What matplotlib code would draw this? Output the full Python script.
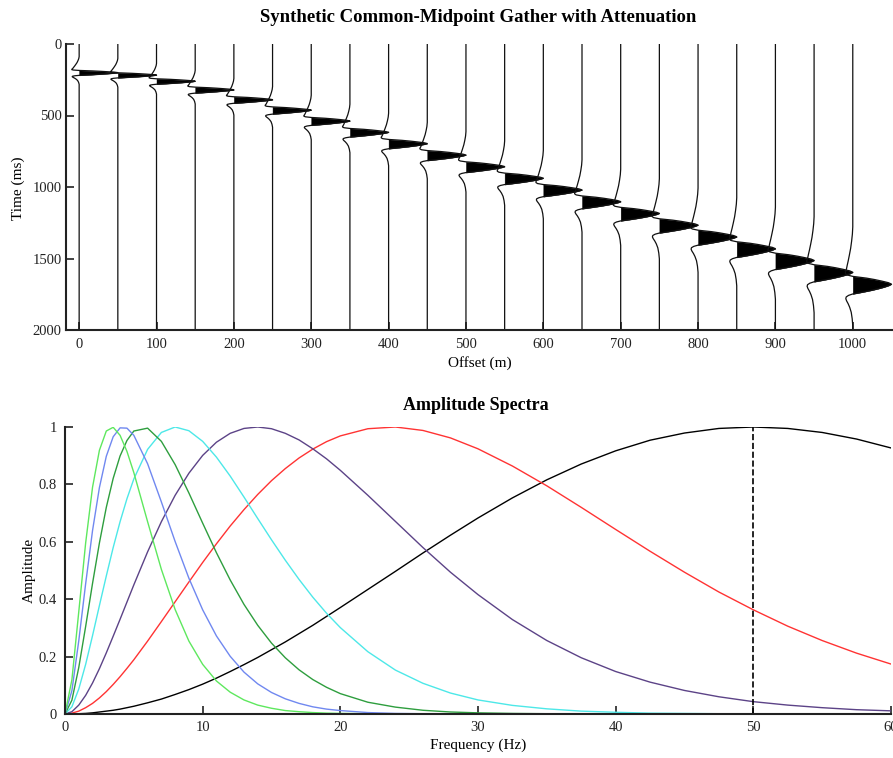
import numpy as np
import matplotlib
matplotlib.use("Agg")
import matplotlib.pyplot as plt

plt.rcParams['font.family'] = ['Liberation Serif', 'DejaVu Serif']

# ---------------- gather data ----------------
offsets = list(range(0, 1001, 50))
arrival_ms = [200, 217, 260, 320, 389, 462, 538, 617, 696, 776, 857, 938,
              1020, 1102, 1184, 1266, 1348, 1431, 1513, 1596, 1679]
width_scale = [0.28, 0.29, 0.31, 0.34, 0.37, 0.41, 0.45, 0.49, 0.53, 0.57, 0.61,
               0.65, 0.69, 0.73, 0.77, 0.81, 0.85, 0.89, 0.93, 0.97, 1.0]
shape_ms = [-400, -350, -300, -250, -200, -160, -130, -110, -95, -84, -74, -64, -54,
            -42, -32, -21, -10, 0, 10, 21, 32, 43, 53, 61, 69, 79, 90, 102, 117,
            137, 162, 197, 242, 292]
shape_amp = [0, -0.01, -0.03, -0.055, -0.09, -0.12, -0.145, -0.16, -0.175, -0.19,
             -0.19, -0.15, 0.0, 0.35, 0.56, 0.75, 0.92, 1.0, 0.93, 0.81, 0.66, 0.49, 0.31,
             0.16, 0.0, -0.11, -0.17, -0.18, -0.16, -0.12, -0.08, -0.04, -0.015, 0]
trace_gain = 50

# ---------------- spectra data ----------------
freqs = [0, 0.5, 1, 1.5, 2, 2.5, 3, 3.5, 4, 4.5, 5, 6, 7, 8, 9, 10, 11, 12, 13, 14,
         15, 16, 17, 18, 19, 20, 22, 24, 26, 28, 30, 32.5, 35, 37.5, 40, 42.5, 45,
         47.5, 50, 52.5, 55, 57.5, 60]
spec_source = [0, 0, 0.001, 0.002, 0.004, 0.007, 0.010, 0.013, 0.017, 0.022, 0.027,
               0.039, 0.052, 0.068, 0.085, 0.104, 0.125, 0.148, 0.172, 0.197, 0.224,
               0.251, 0.280, 0.309, 0.340, 0.371, 0.434, 0.497, 0.561, 0.623, 0.683,
               0.753, 0.816, 0.871, 0.917, 0.954, 0.979, 0.995, 1.0, 0.995, 0.981,
               0.958, 0.927]
spec_x0 = [0, 0.003, 0.010, 0.022, 0.037, 0.056, 0.078, 0.103, 0.130, 0.159, 0.189,
           0.254, 0.322, 0.391, 0.460, 0.528, 0.593, 0.655, 0.712, 0.765, 0.813,
           0.855, 0.892, 0.923, 0.949, 0.969, 0.994, 1.0, 0.988, 0.962, 0.924,
           0.864, 0.795, 0.720, 0.643, 0.567, 0.494, 0.425, 0.363, 0.306, 0.256,
           0.212, 0.174]
spec_x200 = [0, 0.008, 0.031, 0.065, 0.108, 0.158, 0.213, 0.271, 0.330, 0.390, 0.450,
             0.565, 0.670, 0.762, 0.839, 0.901, 0.947, 0.978, 0.995, 1.0, 0.994,
             0.978, 0.955, 0.924, 0.889, 0.849, 0.762, 0.671, 0.580, 0.494, 0.416,
             0.329, 0.256, 0.196, 0.148, 0.111, 0.082, 0.060, 0.043, 0.031, 0.022,
             0.015, 0.011]
spec_x400 = [0, 0.025, 0.087, 0.173, 0.273, 0.378, 0.481, 0.580, 0.670, 0.750, 0.819,
             0.922, 0.981, 1.0, 0.987, 0.950, 0.895, 0.829, 0.756, 0.681, 0.607,
             0.536, 0.469, 0.407, 0.351, 0.301, 0.217, 0.153, 0.107, 0.073, 0.049,
             0.030, 0.018, 0.010, 0.006, 0.003, 0.002, 0.001, 0.001, 0, 0, 0, 0]
spec_x600 = [0, 0.048, 0.162, 0.305, 0.455, 0.596, 0.720, 0.821, 0.899, 0.953, 0.986,
             0.996, 0.950, 0.869, 0.770, 0.665, 0.562, 0.467, 0.382, 0.309, 0.247,
             0.196, 0.154, 0.120, 0.093, 0.071, 0.041, 0.024, 0.013, 0.007, 0.004,
             0.002, 0.001, 0, 0, 0, 0, 0, 0, 0, 0, 0, 0]
spec_x800 = [0, 0.081, 0.255, 0.454, 0.639, 0.789, 0.898, 0.966, 0.997, 0.996, 0.971,
             0.872, 0.739, 0.601, 0.473, 0.363, 0.272, 0.201, 0.146, 0.105, 0.075,
             0.053, 0.037, 0.025, 0.017, 0.012, 0.005, 0.002, 0.001, 0, 0,
             0, 0, 0, 0, 0, 0, 0, 0, 0, 0, 0, 0]
spec_x1000 = [0, 0.119, 0.356, 0.596, 0.790, 0.919, 0.986, 0.999, 0.971, 0.915, 0.841,
              0.670, 0.504, 0.364, 0.254, 0.173, 0.115, 0.076, 0.049, 0.031, 0.020,
              0.012, 0.008, 0.005, 0.003, 0.002, 0.001, 0, 0, 0, 0,
              0, 0, 0, 0, 0, 0, 0, 0, 0, 0, 0, 0]
spectra = [spec_source, spec_x0, spec_x200, spec_x400, spec_x600, spec_x800, spec_x1000]
spec_colors = ['black', '#ff3333', '#5c4387', '#4de8e8', '#2e9e3e', '#7088f0', '#5ee85e']
source_peak_hz = 50

# ---------------- figure ----------------
W, H = 893, 758
fig = plt.figure(figsize=(W/100, H/100), dpi=100)
ax1 = fig.add_axes([66/W, 1-330/H, 1-66/W, (330-44)/H])
ax2 = fig.add_axes([65/W, 1-714/H, (891-65)/W, (714-427)/H])

su = np.array(shape_ms, float)
sa = np.array(shape_amp, float)
for x0, t0, s in zip(offsets, arrival_ms, width_scale):
    t = np.concatenate([[0], t0 + s*su, [2000]])
    a = np.concatenate([[0], sa, [0]]) * trace_gain
    ax1.plot(x0 + a, t, color='#111111', lw=0.9)
    ax1.fill_betweenx(t, x0, x0 + a, where=a > 0, interpolate=True, color='black', lw=0.3)

ax1.set_xlim(-17, 1052)
ax1.set_ylim(2000, 0)
ax1.set_xticks(range(0, 1001, 100))
ax1.set_yticks(range(0, 2001, 500))

for vals, c in zip(spectra, spec_colors):
    ax2.plot(freqs, vals, color=c, lw=1.0)
ax2.plot([source_peak_hz, source_peak_hz], [0, 1], 'k--', lw=1.2)
ax2.set_xlim(0, 60)
ax2.set_ylim(0, 1)
ax2.set_xticks(range(0, 61, 10))
ax2.set_yticks([0, 0.2, 0.4, 0.6, 0.8, 1])
ax2.set_yticklabels(['0', '0.2', '0.4', '0.6', '0.8', '1'])

for ax in (ax1, ax2):
    for sp in ('top', 'right'):
        ax.spines[sp].set_visible(False)
    for sp in ('left', 'bottom'):
        ax.spines[sp].set_linewidth(1.5)
        ax.spines[sp].set_color('#222222')
    ax.tick_params(direction='in', length=5.5, width=1.2, labelsize=10.5, colors='#222222')
ax1.tick_params(axis='x', pad=6)
ax1.tick_params(axis='y', pad=3)
ax2.tick_params(axis='y', pad=6)
ax2.tick_params(axis='x', pad=5)

fig.text(478/W, 1-18/H, 'Synthetic Common-Midpoint Gather with Attenuation',
         ha='center', va='center', fontsize=13.5, fontweight='bold')
fig.text(480/W, 1-363/H, 'Offset (m)', ha='center', va='center', fontsize=11)
fig.text(18/W, 1-188/H, 'Time (ms)', ha='center', va='center', rotation=90, fontsize=11)
fig.text(476/W, 1-405/H, 'Amplitude Spectra', ha='center', va='center', fontsize=13,
         fontweight='bold')
fig.text(478/W, 1-745/H, 'Frequency (Hz)', ha='center', va='center', fontsize=11)
fig.text(29/W, 1-570/H, 'Amplitude', ha='center', va='center', rotation=90, fontsize=11)

fig.savefig('out.png', dpi=100)
